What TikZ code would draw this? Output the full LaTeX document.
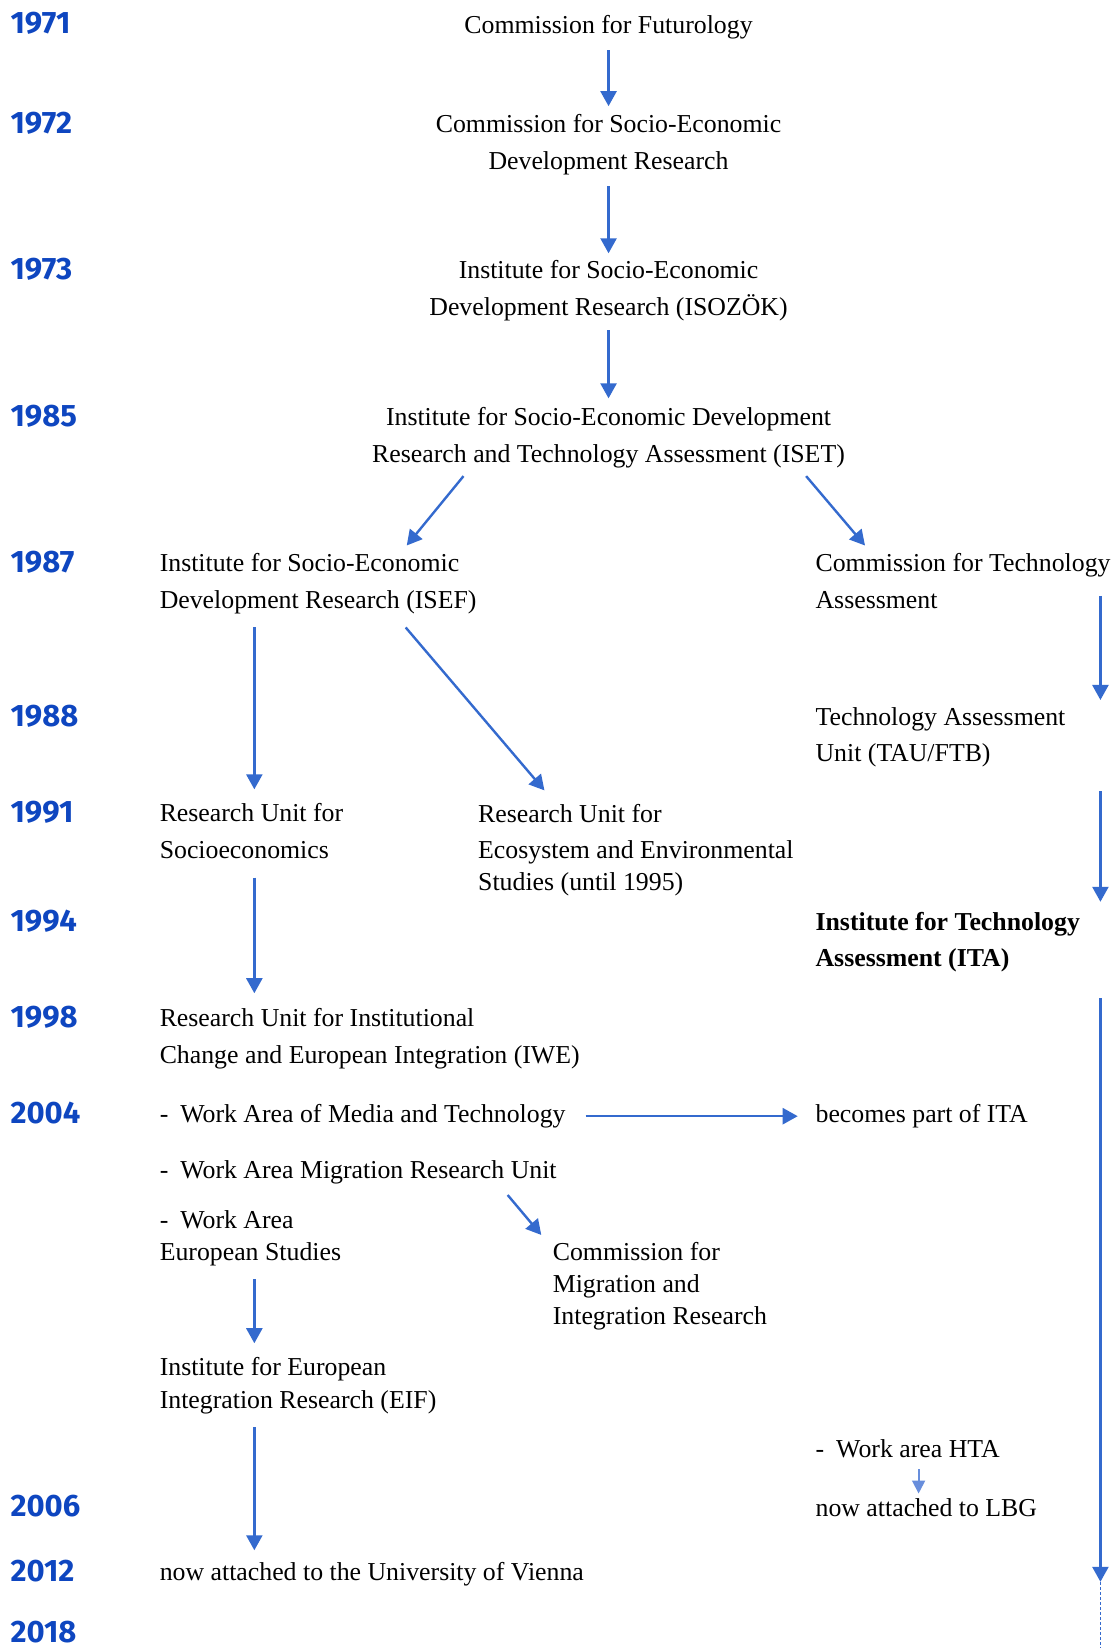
\documentclass[tikz,border=0pt]{standalone}
\usepackage{fontspec}
\setmainfont{Liberation Serif}
\newfontfamily\yearfont[Numbers=Proportional]{Fira Sans}
\usetikzlibrary{arrows.meta,calc}
\definecolor{yearblue}{RGB}{14,70,192}
\definecolor{arrblue}{RGB}{52,106,206}
\definecolor{lightarr}{RGB}{104,142,220}
\begin{document}
\begin{tikzpicture}[x=1.0508pt,y=-1.0508pt,
  txt/.style={inner sep=0pt, outer sep=0pt, text=black, font=\fontsize{25.8}{36.7}\selectfont},
  lt/.style={txt, anchor=base west, align=left},
  ct/.style={txt, anchor=base, align=center},
  yr/.style={inner sep=0pt, outer sep=0pt, anchor=west, text=yearblue, font=\yearfont\bfseries\fontsize{31}{31}\selectfont},
  arr/.style={draw=arrblue, line width=2.4pt, -{Triangle[length=15pt,width=16pt]}},
  smallarr/.style={draw=lightarr, line width=1.8pt, -{Triangle[length=13pt,width=13pt]}},
  dashline/.style={draw=arrblue, line width=1.1pt, dash pattern=on 3pt off 2pt}
]
\fill[white] (0,0) rectangle (1064,1568);
\useasboundingbox (0,0) rectangle (1064,1568);

% years
\node[yr] (y1971) at (10,22) {1971};
\node[yr] (y1972) at (10,117) {1972};
\node[yr] (y1973) at (10,256) {1973};
\node[yr] (y1985) at (10,396) {1985};
\node[yr] (y1987) at (10,535) {1987};
\node[yr] (y1988) at (10,681) {1988};
\node[yr] (y1991) at (10,773) {1991};
\node[yr] (y1994) at (10,876) {1994};
\node[yr] (y1998) at (10,968) {1998};
\node[yr] (y2004) at (10,1059) {2004};
\node[yr] (y2006) at (10,1433) {2006};
\node[yr] (y2012) at (10,1495) {2012};
\node[yr] (y2018) at (10,1553) {2018};

% texts (base anchor = baseline of the last line)
\node[ct] (fut) at (579,32) {Commission for Futurology};
\node[ct] (csedr) at (579,161) {Commission for Socio-Economic\\Development Research};
\node[ct] (isozok) at (579,300) {Institute for Socio-Economic\\Development Research (ISOZÖK)};
\node[ct] (iset) at (579,440) {Institute for Socio-Economic Development\\Research and Technology Assessment (ISET)};
\node[lt] (isef) at (152,579) {Institute for Socio-Economic\\Development Research (ISEF)};
\node[lt] (cta) at (776,579) {Commission for Technology\\Assessment};
\node[lt] (tau) at (776,725) {Technology Assessment\\Unit (TAU/FTB)};
\node[lt] (rus) at (152,817) {Research Unit for\\Socioeconomics};
\node[lt] (rue) at (455,847) {Research Unit for\\Ecosystem and Environmental\\[-5.2pt]Studies (until 1995)};
\node[lt, font=\fontsize{25.8}{36.7}\selectfont\bfseries] (ita) at (776,920) {Institute for Technology\\Assessment (ITA)};
\node[lt] (iwe) at (152,1012) {Research Unit for Institutional\\Change and European Integration (IWE)};
\node[lt] (media) at (152,1068) {-\hspace{12pt}Work Area of Media and Technology};
\node[lt] (becomes) at (776,1068) {becomes part of ITA};
\node[lt] (migr) at (152,1121) {-\hspace{12pt}Work Area Migration Research Unit};
\node[lt] (euro) at (152,1199) {-\hspace{12pt}Work Area\\[-5.2pt]European Studies};
\node[lt] (cmir) at (526,1260) {Commission for\\[-4.7pt]Migration and\\[-4.7pt]Integration Research};
\node[lt] (eif) at (152,1340) {Institute for European\\[-4.2pt]Integration Research (EIF)};
\node[lt] (hta) at (776,1387) {-\hspace{12pt}Work area HTA};
\node[lt] (lbg) at (776,1443) {now attached to LBG};
\node[lt] (univ) at (152,1504) {now attached to the University of Vienna};

\coordinate (itaend) at (1047,1505);
\coordinate (pagebottom) at (1047,1568);

% connectors
\draw[arr] ($(fut.base)+(0,16)$) -- ($(csedr.base)+(0,-60)$);
\draw[arr] ($(csedr.base)+(0,16)$) -- ($(isozok.base)+(0,-59)$);
\draw[arr] ($(isozok.base)+(0,14)$) -- ($(iset.base)+(0,-61)$);
\draw[arr] ($(iset.base)+(-138,13)$) -- ($(isef.base west)+(235,-60)$);
\draw[arr] ($(iset.base)+(188,13)$) -- ($(cta.base west)+(47,-60)$);
\draw[arr] ($(isef.base west)+(90,18)$) -- ($(rus.base west)+(90,-66)$);
\draw[arr] ($(isef.base west)+(234,18)$) -- ($(rue.base west)+(63,-95)$);
\draw[arr] ($(cta.base west)+(271,-12)$) -- ($(tau.base west)+(271,-59)$);
\draw[arr] ($(tau.base west)+(271,28)$) -- ($(ita.base west)+(271,-62)$);
\draw[arr] ($(rus.base west)+(90,18)$) -- ($(iwe.base west)+(90,-67)$);
\draw[arr] ($(ita.base west)+(271,30)$) -- (itaend);
\draw[dashline] (itaend) -- (pagebottom);
\draw[arr] ($(media.base east)+(19,-6)$) -- ($(becomes.base west)+(-17,-6)$);
\draw[arr] ($(migr.base west)+(331,16)$) -- ($(cmir.base west)+(-11,-85)$);
\draw[arr] ($(euro.base west)+(90,18)$) -- ($(eif.base west)+(90,-62)$);
\draw[arr] ($(eif.base west)+(90,18)$) -- ($(univ.base west)+(90,-29)$);
\draw[smallarr] ($(hta.base west)+(98,11)$) -- ($(lbg.base west)+(98,-22)$);
\end{tikzpicture}
\end{document}
